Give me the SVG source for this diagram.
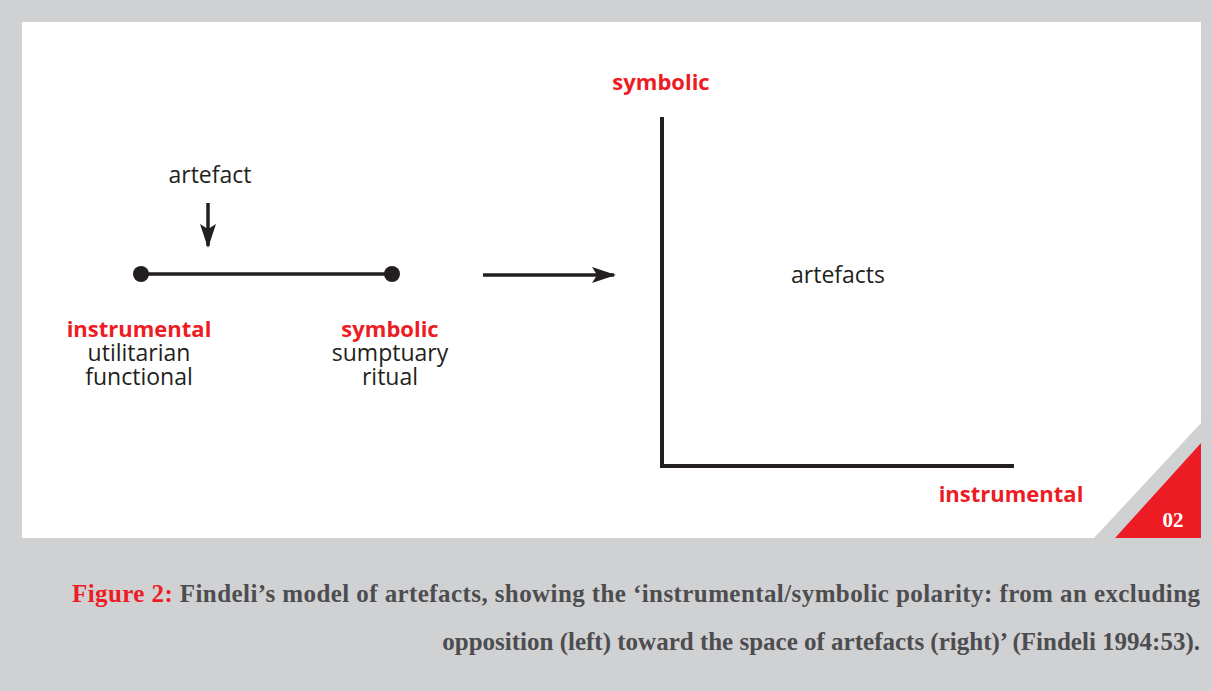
<svg xmlns="http://www.w3.org/2000/svg" width="1212" height="691" viewBox="0 0 1212 691">
<style>
.lbl{font-family:"Open Sans","Liberation Sans",sans-serif;font-size:23px;fill:#231f20;text-anchor:middle}
.red{font-family:"Open Sans","Liberation Sans",sans-serif;font-size:22px;font-weight:bold;fill:#ed1c24;text-anchor:middle}
.ln{stroke:#231f20;stroke-width:3.5;fill:none}
.cap{font-family:"Liberation Serif",serif;font-size:25px;font-weight:bold;fill:#4d4d4f}
</style>
<defs>
<marker id="ah" viewBox="0 0 24 16" refX="22" refY="8" markerWidth="24" markerHeight="16" markerUnits="userSpaceOnUse" orient="auto">
<path d="M0,0 L24,8 L0,16 L5,8 Z" fill="#231f20"/>
</marker>
</defs>
<rect width="1212" height="691" fill="#d0d1d3"/>
<polygon points="22,22 1201,22 1201,423 1094,538 22,538" fill="#ffffff"/>
<polygon points="1201,443 1201,538 1115,538" fill="#ed1c24"/>
<text x="1173" y="527" text-anchor="middle" font-family="Liberation Serif,serif" font-size="21" font-weight="bold" fill="#ffffff">02</text>
<g id="connectors">
<line class="ln" x1="208" y1="203" x2="208" y2="246" marker-end="url(#ah)"/>
<line class="ln" x1="141" y1="274" x2="392" y2="274"/>
<line class="ln" x1="483" y1="275" x2="614" y2="275" marker-end="url(#ah)"/>
<polyline class="ln" style="stroke-width:4" points="662,117 662,466 1014,466"/>
</g>
<g id="artefact"><text class="lbl" x="210" y="183">artefact</text></g>
<g id="pole-instrumental">
<circle cx="141" cy="274" r="8" fill="#231f20"/>
<text class="red" x="139" y="337">instrumental</text>
<text class="lbl" x="139" y="361">utilitarian</text>
<text class="lbl" x="139" y="385">functional</text>
</g>
<g id="pole-symbolic">
<circle cx="392" cy="274" r="8" fill="#231f20"/>
<text class="red" x="390" y="337">symbolic</text>
<text class="lbl" x="390" y="361">sumptuary</text>
<text class="lbl" x="390" y="385">ritual</text>
</g>
<g id="axis-symbolic"><text class="red" x="661" y="90">symbolic</text></g>
<g id="axis-instrumental"><text class="red" x="1011" y="502">instrumental</text></g>
<g id="artefacts"><text class="lbl" x="838" y="283">artefacts</text></g>
<g id="caption">
<text class="cap" x="72" y="602" textLength="1128" lengthAdjust="spacing"><tspan fill="#ed1c24">Figure 2:</tspan> Findeli’s model of artefacts, showing the ‘instrumental/symbolic polarity: from an excluding</text>
<text class="cap" x="1200" y="650" text-anchor="end">opposition (left) toward the space of artefacts (right)’ (Findeli 1994:53).</text>
</g>
</svg>
